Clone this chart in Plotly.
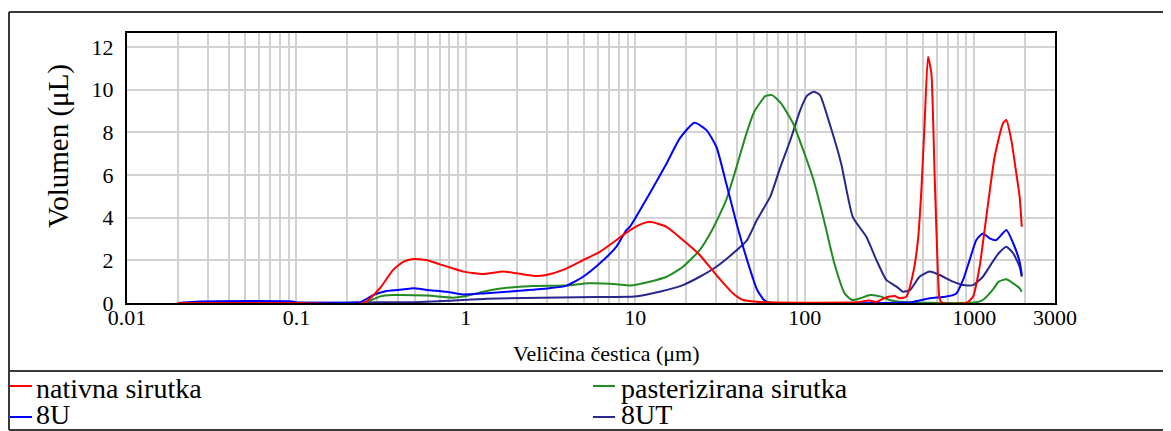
import plotly.graph_objects as go

# ---------------- data ----------------
red_x = [0.02, 0.1, 0.25, 0.311, 0.372, 0.427, 0.489, 0.586, 0.703, 0.842, 0.964, 1.265, 1.66, 1.99,
         2.61, 2.99, 3.75, 4.92, 6.18, 7.74, 8.87, 10.5, 12.18, 15.3, 19.1, 24.0, 30.1, 37.8, 43.3,
         51.9, 70, 200, 240, 265, 290, 317, 340, 364, 398, 436, 466, 488, 510, 534, 559, 584, 611,
         625, 650, 900, 985, 1077, 1180, 1321, 1480, 1549, 1657, 1773, 1855, 1910]
red_y = [0, 0, 0, 0.69, 1.55, 1.93, 2.06, 2.01, 1.81, 1.62, 1.47, 1.36, 1.47, 1.39,
         1.26, 1.31, 1.55, 2.01, 2.4, 2.95, 3.3, 3.65, 3.81, 3.57, 2.95, 2.25, 1.31, 0.45, 0.14,
         0.06, 0.02, 0.03, 0.12, 0.05, 0.2, 0.3, 0.33, 0.22, 0.3, 1.39, 2.95, 5.29, 8.42, 11.54, 10.76, 6.07, 1.39,
         0.2, 0.0, 0.0, 0.3, 1.7, 4.04, 6.85, 8.42, 8.57, 7.63, 6.07, 4.98, 3.57]

green_x = [0.02, 0.25, 0.31, 0.37, 0.586, 0.84, 0.96, 1.27, 1.66, 2.5, 3.9, 5.3, 7.74, 9.3, 12.18,
           15.3, 19.1, 24.0, 28.4, 34.4, 39.6, 45.3, 50.3, 58.7, 64.2, 72.5, 85.3, 97.9, 112.7,
           129.8, 149.5, 172, 190, 213, 243, 282, 317, 364, 450, 1000, 1125, 1286, 1395, 1549,
           1700, 1855, 1910]
green_y = [0, 0, 0.3, 0.37, 0.35, 0.25, 0.3, 0.53, 0.69, 0.8, 0.82, 0.92, 0.88, 0.82, 1.0,
           1.23, 1.7, 2.48, 3.42, 4.82, 6.38, 7.95, 8.95, 9.7, 9.74, 9.35, 8.42, 7.17, 5.76,
           3.89, 1.86, 0.45, 0.14, 0.22, 0.37, 0.3, 0.14, 0.06, 0.02, 0.02, 0.14, 0.61, 1.0, 1.11,
           0.92, 0.69, 0.53]

blue_x = [0.02, 0.027, 0.095, 0.1, 0.22, 0.24, 0.284, 0.34, 0.43, 0.49, 0.59, 0.77, 0.96, 1.27,
          1.99, 3.1, 3.9, 4.92, 6.18, 7.74, 8.87, 9.3, 12.18, 15.3, 18.3, 22.3, 26.3, 30.1, 34.4,
          39.6, 45.7, 52.4, 57.5, 62, 400, 436, 547, 685, 785, 860, 940, 1030, 1125, 1233, 1352,
          1549, 1700, 1855, 1910]
blue_y = [0, 0.07, 0.07, 0.02, 0.02, 0.05, 0.37, 0.56, 0.64, 0.69, 0.61, 0.53, 0.4, 0.45,
          0.56, 0.69, 0.8, 1.23, 1.86, 2.64, 3.42, 3.57, 5.14, 6.54, 7.71, 8.45, 8.1, 7.32, 5.61,
          3.73, 2.01, 0.61, 0.14, 0.02, 0.02, 0.05, 0.22, 0.3, 0.45, 1.08, 2.01, 2.95, 3.26, 3.03, 2.95,
          3.42, 2.8, 1.93, 1.31]

navy_x = [0.02, 0.027, 0.095, 0.1, 0.3, 0.5, 0.8, 1.33, 5.9, 9.9, 13.9, 19.1, 24.0, 30.1, 37.8,
          45.7, 52.2, 62.6, 71.9, 82, 94.1, 103, 112.7, 123, 140, 164, 192, 231, 265, 303, 348,
          380, 418, 476, 547, 625, 750, 860, 985, 1125, 1286, 1395, 1549, 1700, 1855, 1910]
navy_y = [0.0, 0.04, 0.04, 0.02, 0.03, 0.04, 0.1, 0.2, 0.28, 0.3, 0.53, 0.84, 1.23, 1.7, 2.33,
          2.95, 3.89, 4.98, 6.38, 7.6, 9.04, 9.7, 9.9, 9.74, 8.42, 6.54, 4.04, 3.1, 2.01, 1.08, 0.77,
          0.53, 0.6, 1.23, 1.47, 1.31, 1.0, 0.84, 0.84, 1.23, 1.93, 2.33, 2.64, 2.33, 1.7, 1.23]

series_names = ["nativna sirutka", "pasterizirana sirutka", "8U", "8UT"]
series_colors = ["#ff0000", "#228b22", "#0000ff", "#27278c"]

x_major_vals = [0.01, 0.1, 1, 10, 100, 1000, 3000]
x_major_text = ["0.01", "0.1", "1", "10", "100", "1000", "3000"]
y_tick_vals = [0, 2, 4, 6, 8, 10, 12]
y_tick_text = ["0", "2", "4", "6", "8", "10", "12"]

x_title = "Veličina čestica (μm)"
y_title = "Volumen (μL)"

# ---------------- layout geometry ----------------
OFF = 8                      # page body margin of the html page
WIN_W, WIN_H = 1171, 431
W, H = WIN_W - OFF, WIN_H - OFF
# plot area in window pixels
PL, PR, PT, PB = 127, 1055, 33, 303


def pxx(px):
    return (px - PL) / (PR - PL)


def pxy(py):
    return (PB - py) / (PB - PT)


FONT = "Liberation Serif, Times New Roman, serif"

# grid tick values (decades + minors)
grid_vals = []
grid_text = []
for dec in [0.01, 0.1, 1, 10, 100, 1000]:
    for m in range(1, 10):
        v = round(dec * m, 6)
        if v > 3000:
            break
        grid_vals.append(v)
        grid_text.append("")
for v, t in zip(x_major_vals, x_major_text):
    if v in grid_vals:
        grid_text[grid_vals.index(v)] = t
    else:
        grid_vals.append(v)
        grid_text.append(t)

fig = go.Figure()
data = [(red_x, red_y), (green_x, green_y), (blue_x, blue_y), (navy_x, navy_y)]
order = [3, 1, 2, 0]
for i in order:
    xs, ys = data[i]
    fig.add_trace(go.Scatter(x=xs, y=ys, mode="lines", name=series_names[i],
                             line=dict(color=series_colors[i], width=2, shape="spline", smoothing=0.5),
                             showlegend=False, hoverinfo="skip"))

fig.update_layout(
    width=W, height=H,
    margin=dict(l=PL - OFF, r=WIN_W - PR, t=PT - OFF, b=WIN_H - PB, pad=0),
    paper_bgcolor="white", plot_bgcolor="white",
    font=dict(family=FONT, color="black"),
    showlegend=False,
)
fig.update_xaxes(type="log", range=[-2, 3.47712], tickvals=grid_vals, ticktext=grid_text,
                 showgrid=True, gridcolor="#d2d2d2", gridwidth=1.6, ticks="",
                 showline=True, linecolor="black", linewidth=2, mirror=True, zeroline=False,
                 tickfont=dict(size=22, family=FONT, color="black"), ticklabelstandoff=-6)
fig.update_yaxes(range=[0, 12.65], tickvals=y_tick_vals, ticktext=y_tick_text,
                 showgrid=True, gridcolor="#d2d2d2", gridwidth=1.6, ticks="",
                 showline=True, linecolor="black", linewidth=2, mirror=True, zeroline=False,
                 tickfont=dict(size=22, family=FONT, color="black"), ticklabelstandoff=7)

# axis titles
fig.add_annotation(x=pxx(606), y=pxy(353), xref="paper", yref="paper", text=x_title,
                   showarrow=False, font=dict(size=22, family=FONT, color="black"),
                   xanchor="center", yanchor="middle")
fig.add_annotation(x=pxx(58), y=pxy(146), xref="paper", yref="paper", text=y_title,
                   showarrow=False, textangle=-90, font=dict(size=29, family=FONT, color="black"),
                   xanchor="center", yanchor="middle")

# outer frame lines (window pixel coordinates)
frame_col = "#3a3a3a"
for (x0, y0, x1, y1) in [(9, 12, 1175, 12), (9, 12, 9, 430), (9, 430, 1175, 430), (9, 371, 1175, 371)]:
    fig.add_shape(type="line", xref="paper", yref="paper", x0=pxx(x0), y0=pxy(y0), x1=pxx(x1), y1=pxy(y1),
                  line=dict(color=frame_col, width=2))

# manual legend: (sample x, sample y, text x, text y, text anchor)
leg_pos = [(10, 386, 35, 388, "middle"), (593, 386, 620, 388, "middle"),
           (10, 417, 35, 431, "bottom"), (593, 417, 620, 431, "bottom")]
for i, (lx, ly, tx, ty, ya) in enumerate(leg_pos):
    fig.add_shape(type="line", xref="paper", yref="paper", x0=pxx(lx), y0=pxy(ly), x1=pxx(lx + 22), y1=pxy(ly),
                  line=dict(color=series_colors[i], width=2))
    fig.add_annotation(x=pxx(tx), y=pxy(ty), xref="paper", yref="paper", text=series_names[i],
                       showarrow=False, font=dict(size=28, family=FONT, color="black"),
                       xanchor="left", yanchor=ya, borderpad=0)

fig.write_html("out.html")
